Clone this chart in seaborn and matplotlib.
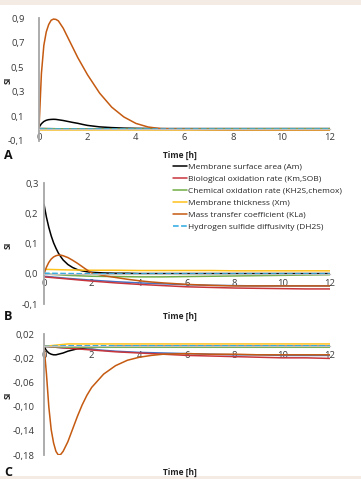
import matplotlib
matplotlib.use("Agg")
import matplotlib.pyplot as plt
import seaborn as sns
from matplotlib.patches import Rectangle

# time grids (hours)
t_fine = [0, 0.1, 0.2, 0.3, 0.4, 0.5, 0.6, 0.7, 0.8, 1.0, 1.2, 1.4, 1.6, 1.8, 2.0,
          2.5, 3, 3.5, 4, 4.5, 5, 6, 7, 8, 9, 10, 11, 12]
t_coarse = [0, 1, 2, 3, 4, 5, 6, 7, 8, 9, 10, 11, 12]

# legend labels
labels = ["Membrane surface area (Am)",
          "Biological oxidation rate (Km,SOB)",
          "Chemical oxidation rate (KH2S,chemox)",
          "Membrane thickness (Xm)",
          "Mass transfer coefficient (KLa)",
          "Hydrogen sulfide diffusivity (DH2S)"]
colors = ["#000000", "#c8363c", "#70ad47", "#ffc21a", "#c55a11", "#2aa9e0"]
blue = "#4472c4"

# Panel A
a_am = [0.01, 0.04, 0.058, 0.068, 0.073, 0.075, 0.076, 0.075, 0.072, 0.066, 0.058, 0.05, 0.043, 0.034,
        0.026, 0.014, 0.008, 0.004, 0.002, 0.001, 0, 0, 0, 0, 0, 0, 0, 0]
a_kla = [0, 0.45, 0.68, 0.79, 0.85, 0.885, 0.895, 0.892, 0.88, 0.82, 0.74, 0.66, 0.58, 0.51,
         0.44, 0.29, 0.175, 0.095, 0.042, 0.013, 0.0, -0.005, -0.007, -0.008, -0.008, -0.008, -0.008, -0.008]
a_red = [0, -0.002, -0.004, -0.005, -0.006, -0.007, -0.008, -0.008, -0.009, -0.009, -0.01, -0.01, -0.01]
a_green = [0, -0.002, -0.003, -0.003, -0.003, -0.003, -0.003, -0.002, -0.002, -0.002, -0.001, -0.001, -0.001]
a_yellow = [-0.01, -0.01, -0.01, -0.01, -0.01, -0.01, -0.01, -0.01, -0.01, -0.01, -0.01, -0.01, -0.01]
a_cyan = [0, 0, 0, 0, 0, 0, 0, 0, 0, 0, 0, 0, 0]
a_blue = [0, -0.002, -0.003, -0.004, -0.005, -0.006, -0.006, -0.007, -0.007, -0.007, -0.008, -0.008, -0.008]
a_yticks = [-0.1, 0.1, 0.3, 0.5, 0.7, 0.9]

# Panel B
b_am = [0.23, 0.188, 0.154, 0.126, 0.103, 0.085, 0.069, 0.057, 0.046, 0.031, 0.021, 0.014, 0.01, 0.007,
        0.005, 0.003, 0.002, 0.002, 0.001, 0.001, 0.001, 0.001, 0.001, 0.001, 0.001, 0.001, 0.001, 0.001]
b_kla = [0, 0.022, 0.038, 0.049, 0.056, 0.06, 0.062, 0.062, 0.06, 0.054, 0.045, 0.035, 0.024, 0.013,
         0.003, -0.006, -0.012, -0.018, -0.023, -0.027, -0.03, -0.035, -0.038, -0.04, -0.04, -0.04, -0.04, -0.04]
b_red = [-0.01, -0.017, -0.024, -0.03, -0.035, -0.039, -0.043, -0.045, -0.047, -0.048, -0.049, -0.05, -0.05]
b_green = [0, -0.005, -0.008, -0.009, -0.01, -0.01, -0.009, -0.008, -0.007, -0.006, -0.005, -0.004, -0.003]
b_yellow = [0.015, 0.013, 0.012, 0.012, 0.011, 0.011, 0.011, 0.011, 0.01, 0.01, 0.01, 0.01, 0.01]
b_cyan = [0.002, 0.001, 0, 0, 0, 0, 0, 0, 0, 0, 0, 0, 0]
b_blue = [-0.008, -0.015, -0.021, -0.026, -0.03, -0.033, -0.036, -0.038, -0.039, -0.04, -0.04, -0.04, -0.04]
b_yticks = [-0.1, 0.0, 0.1, 0.2, 0.3]

# Panel C
c_am = [0, -0.007, -0.011, -0.013, -0.014, -0.014, -0.013, -0.012, -0.011, -0.008, -0.006, -0.004, -0.003,
        -0.002, -0.002, -0.001, 0, 0, 0, 0, 0, 0, 0, 0, 0, 0, 0, 0]
c_kla = [0, -0.045, -0.1, -0.138, -0.16, -0.174, -0.18, -0.179, -0.174, -0.158, -0.137, -0.116, -0.097,
         -0.081, -0.068, -0.046, -0.032, -0.023, -0.018, -0.015, -0.013, -0.012, -0.013, -0.013, -0.014,
         -0.014, -0.014, -0.014]
c_red = [0, -0.003, -0.006, -0.009, -0.011, -0.013, -0.015, -0.016, -0.017, -0.018, -0.019, -0.019, -0.02]
c_green = [0, -0.0015, -0.0015, -0.0015, -0.0015, -0.0015, -0.0015, -0.0015, -0.0015, -0.0015, -0.0015,
           -0.0015, -0.0015]
c_yellow = [0, 0.004, 0.004, 0.004, 0.004, 0.004, 0.004, 0.004, 0.004, 0.004, 0.004, 0.004, 0.004]
c_cyan = [0, 0.001, 0.001, 0.001, 0.001, 0.001, 0.001, 0.001, 0.001, 0.001, 0.001, 0.001, 0.001]
c_blue = [0, -0.003, -0.005, -0.008, -0.01, -0.011, -0.012, -0.013, -0.014, -0.014, -0.015, -0.015, -0.015]
c_yticks = [-0.18, -0.14, -0.10, -0.06, -0.02, 0.02]

xticks = [0, 2, 4, 6, 8, 10, 12]

sns.set_theme(style="white")
plt.rcParams["font.family"] = ["Open Sans", "DejaVu Sans"]

fig = plt.figure(figsize=(3.61, 4.79), dpi=100)
fig.patch.set_facecolor("#f4ebe5")
fig.patches.append(Rectangle((0, 3 / 479), 1, 1 - 8 / 479, transform=fig.transFigure,
                             facecolor="white", edgecolor="none", zorder=-1))

# letter, axes box, y range, y ticks, tick format, y label pad, SI label y (px)
panels = [
    ("A", [0.108, 0.706, 0.806, 0.2555], (-0.1, 0.9), a_yticks, "{:.1f}", 8, 80,
     [a_blue, a_am, a_red, a_green, a_yellow, a_kla, a_cyan]),
    ("B", [0.122, 0.3653, 0.792, 0.252], (-0.1, 0.3), b_yticks, "{:.1f}", 1.5, 245,
     [b_blue, b_am, b_red, b_green, b_yellow, b_kla, b_cyan]),
    ("C", [0.122, 0.0501, 0.792, 0.252], (-0.18, 0.02), c_yticks, "{:.2f}", 4.5, 395,
     [c_blue, c_am, c_red, c_green, c_yellow, c_kla, c_cyan]),
]

axes = []
for letter, pos, ylim, yticks, fmt, ypad, si_y, series in panels:
    ax = fig.add_axes(pos)
    ax.set_facecolor("none")
    blue_vals, others = series[0], series[1:]
    sns.lineplot(x=t_coarse, y=blue_vals, ax=ax, color=blue, linewidth=1.1)
    for i, vals in enumerate(others):
        tt = t_fine if len(vals) == len(t_fine) else t_coarse
        sns.lineplot(x=tt, y=vals, ax=ax, color=colors[i], linewidth=1.1,
                     linestyle="--" if i == 5 else "-", label=labels[i])
    ax.get_legend().remove()
    ax.set_xlim(0, 12)
    ax.set_ylim(*ylim)
    ax.set_xticks(xticks)
    ax.set_xticklabels([str(x) for x in xticks])
    ax.set_yticks(yticks)
    ax.set_yticklabels([fmt.format(v).replace(".", ",") for v in yticks])
    for s in ["top", "right"]:
        ax.spines[s].set_visible(False)
    ax.spines["bottom"].set_position(("data", 0))
    ax.spines["bottom"].set_color("#bfbfbf")
    ax.spines["left"].set_color("#a6a6a6")
    ax.spines["left"].set_linewidth(1.3)
    ax.spines["bottom"].set_linewidth(0.9)
    ax.tick_params(axis="both", direction="inout", length=5, width=0.8, color="#a6a6a6",
                   labelsize=6.8, labelcolor="#3a3a3a")
    ax.tick_params(axis="x", pad=1)
    ax.tick_params(axis="y", pad=ypad)
    ax.set_xlabel("")
    ax.set_ylabel("")
    fig.text(8 / 361, 1 - si_y / 479, "SI", rotation=90, fontsize=6, fontweight="bold",
             ha="center", va="center", color="#222222")
    axes.append(ax)

# x labels and panel letters
for letter, ytxt in [("A", 155), ("B", 316), ("C", 472)]:
    fig.text(180 / 361, 1 - ytxt / 479, "Time [h]", fontsize=6, fontweight="bold",
             ha="center", va="center", color="#222222")
    fig.text(4 / 361, 1 - ytxt / 479, letter, fontsize=9, fontweight="bold",
             ha="left", va="center", color="#111111")

handles, labs = axes[1].get_legend_handles_labels()
fig.legend(handles, labs, loc="upper left", bbox_to_anchor=(173 / 361, 1 - 163 / 479),
           frameon=False, fontsize=6, handlelength=1.7, handletextpad=0.15,
           labelspacing=0.5, borderpad=0, borderaxespad=0)

fig.savefig("out.png", dpi=100, facecolor=fig.get_facecolor())
